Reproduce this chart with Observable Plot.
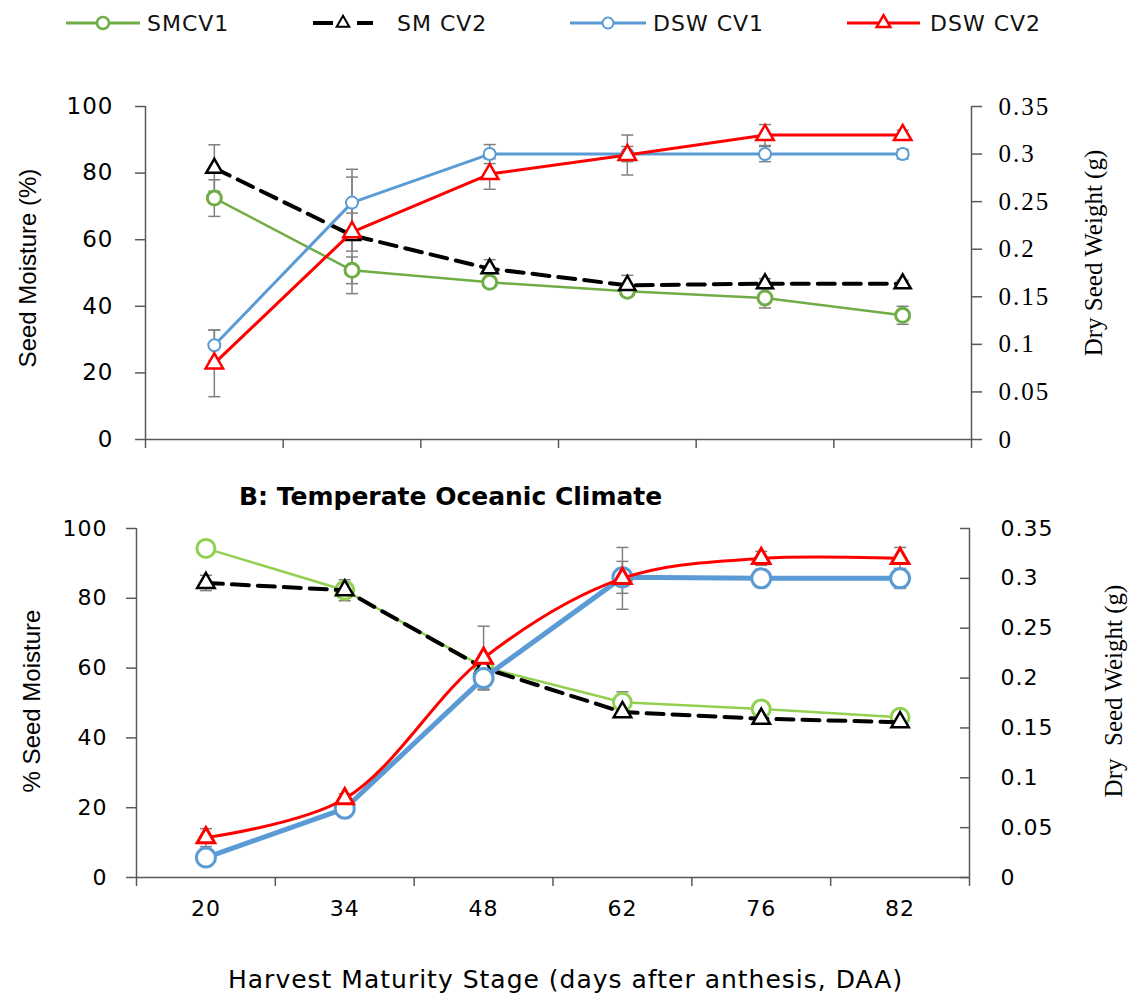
<!DOCTYPE html>
<html><head><meta charset="utf-8">
<script src="https://cdn.jsdelivr.net/npm/d3@7"></script>
<script src="https://cdn.jsdelivr.net/npm/@observablehq/plot@0.6"></script>
<style>
html, body { margin:0; padding:0; background:#fff; }
#root { position:relative; width:1131px; height:999px; overflow:hidden; color:#000; }
.abs { position:absolute; white-space:nowrap; line-height:1; }
.rot { transform: translate(-50%,-50%) rotate(-90deg); }
svg g[font-family="Liberation Serif"] text { letter-spacing: 2px; }
svg g[font-family="DejaVu Sans"] text { letter-spacing: 1px; }
</style>
</head><body><div id="root"></div>
<script>
// ---------- data ----------
const categories = ["20", "34", "48", "62", "76", "82"];
const seriesNames = ["SMCV1", "SM CV2", "DSW CV1", "DSW CV2"];
const leftTicks = [0, 20, 40, 60, 80, 100];
const rightTicks = [0, 0.05, 0.1, 0.15, 0.2, 0.25, 0.3, 0.35];

// Panel A (top)
const smcv1A    = [72.5, 50.8, 47.2, 44.5, 42.5, 37.3];
const smcv1AErr = [5.5, 4, 1.5, 1.5, 3, 2.7];
const smcv2A    = [81.5, 61.3, 51.3, 46.3, 46.8, 46.8];
const smcv2AErr = [7, 17.5, 2.7, 3, 1.5, 1];
const dswcv1A    = [0.099, 0.249, 0.300, 0.300, 0.300, 0.300];
const dswcv1AErr = [0.016, 0.035, 0.01, 0.008, 0.008, 0.005];
const dswcv2A    = [0.080, 0.218, 0.279, 0.299, 0.320, 0.320];
const dswcv2AErr = [0.035, 0.02, 0.016, 0.021, 0.011, 0.005];

// Panel B (bottom)
const smcv1B    = [94.3, 82.3, 60.3, 50.2, 48.3, 45.9];
const smcv1BErr = [0, 0, 1.5, 3, 0, 0];
const smcv2B    = [84.4, 82.3, 60.0, 47.4, 45.5, 44.5];
const smcv2BErr = [2.2, 3, 1.5, 1, 0, 0];
const dswcv1B    = [0.020, 0.069, 0.200, 0.301, 0.300, 0.300];
const dswcv1BErr = [0, 0, 0.011, 0.016, 0.009, 0.01];
const dswcv2B    = [0.040, 0.079, 0.220, 0.300, 0.320, 0.320];
const dswcv2BErr = [0.009, 0.005, 0.032, 0.031, 0.007, 0.011];

// ---------- styles ----------
const green1 = "#70AD47", green2 = "#92D050", blue = "#5B9BD5", red = "#FF0000", black = "#000000";
const errColor = "#808080", axisColor = "#595959";
const k = d3.max(leftTicks) / d3.max(rightTicks);

const stylesA = [
  {color: green1, width: 2.5, symbol: "circle", r: 7, mWidth: 3},
  {color: black, width: 4, dash: "17,9", symbol: "triangle", r: 6, mWidth: 2.5},
  {color: blue, width: 3, symbol: "circle", r: 6, mWidth: 2},
  {color: red, width: 3, symbol: "triangle", r: 6.5, mWidth: 2.5}
];
const stylesB = [
  {color: green2, width: 2.5, symbol: "circle", r: 9, mWidth: 3},
  {color: black, width: 4, dash: "17,9", symbol: "triangle", r: 6.5, mWidth: 2.5},
  {color: blue, width: 5, symbol: "circle", r: 9.5, mWidth: 3},
  {color: red, width: 3, symbol: "triangle", r: 6.5, mWidth: 3, curve: "catmull-rom"}
];

const capSymbol = { draw(ctx, size) { const w = Math.sqrt(size); ctx.moveTo(-w, 0); ctx.lineTo(w, 0); } };

function toRows(vals, errs, f) { return vals.map((v, i) => ({x: i + 0.5, y: v * f, e: errs[i] * f})); }

function errMarks(rows) {
  const w = rows.filter(d => d.e > 0);
  return [
    Plot.ruleX(w, {x: "x", y1: d => d.y - d.e, y2: d => d.y + d.e, stroke: errColor, strokeWidth: 1.5}),
    Plot.dot(w, {x: "x", y: d => d.y + d.e, symbol: capSymbol, r: 3.4, fill: "none", stroke: errColor, strokeWidth: 1.5}),
    Plot.dot(w, {x: "x", y: d => d.y - d.e, symbol: capSymbol, r: 3.4, fill: "none", stroke: errColor, strokeWidth: 1.5})
  ];
}
function lineMarks(rows, st) {
  return [
    Plot.line(rows, {x: "x", y: "y", stroke: st.color, strokeWidth: st.width, strokeDasharray: st.dash, curve: st.curve || "linear"}),
    Plot.dot(rows, {x: "x", y: "y", symbol: st.symbol, r: st.r, stroke: st.color, strokeWidth: st.mWidth, fill: "white"})
  ];
}

function panel(o) {
  const marks = [];
  o.series.forEach(rows => marks.push(...errMarks(rows)));
  marks.push(Plot.ruleY([0], {stroke: axisColor, strokeWidth: 1.5}));
  marks.push(Plot.ruleX([0, categories.length], {stroke: axisColor, strokeWidth: 1.5}));
  marks.push(Plot.axisX({ticks: d3.range(categories.length + 1), tickSize: 9, tickFormat: () => "", stroke: axisColor, strokeWidth: 1.5, label: null}));
  if (o.xLabels) {
    marks.push(Plot.axisX({ticks: categories.map((_, i) => i + 0.5), tickSize: 0, tickPadding: o.xPad,
      tickFormat: d => categories[Math.floor(d)], fontSize: 22, fontFamily: "DejaVu Sans", label: null}));
  }
  marks.push(Plot.axisY({anchor: "left", ticks: leftTicks, tickSize: 10, tickPadding: o.leftPad,
    fontSize: o.leftSize, fontFamily: "DejaVu Sans", stroke: axisColor, strokeWidth: 1.5, label: null}));
  marks.push(Plot.axisY({anchor: "right", ticks: rightTicks.map(v => v * k), tickSize: o.rightTick, tickPadding: o.rightPad,
    tickFormat: d => String(+(d / k).toFixed(2)),
    fontSize: o.rightSize, fontFamily: o.rightFamily, stroke: axisColor, strokeWidth: 1.5, label: null}));
  o.series.forEach((rows, i) => marks.push(...lineMarks(rows, o.styles[i])));
  const svg = Plot.plot({
    width: 1131, height: o.height,
    marginTop: o.mt, marginBottom: o.mb, marginLeft: o.ml, marginRight: o.mr,
    x: {domain: [0, categories.length], label: null},
    y: {domain: [d3.min(leftTicks), d3.max(leftTicks)], label: null},
    style: {color: "#000", background: "transparent", overflow: "visible"},
    marks
  });
  svg.style.position = "absolute";
  svg.style.left = "0px";
  svg.style.top = o.top + "px";
  return svg;
}

const root = document.getElementById("root");

const seriesA = [toRows(smcv1A, smcv1AErr, 1), toRows(smcv2A, smcv2AErr, 1), toRows(dswcv1A, dswcv1AErr, k), toRows(dswcv2A, dswcv2AErr, k)];
const seriesB = [toRows(smcv1B, smcv1BErr, 1), toRows(smcv2B, smcv2BErr, 1), toRows(dswcv1B, dswcv1BErr, k), toRows(dswcv2B, dswcv2BErr, k)];

root.appendChild(panel({series: seriesA, styles: stylesA, top: 60, height: 400, mt: 46, mb: 21, ml: 145, mr: 160,
  xLabels: false, leftPad: 22, leftSize: 23, rightTick: 10, rightPad: 17, rightSize: 25, rightFamily: "Liberation Serif"}));
root.appendChild(panel({series: seriesB, styles: stylesB, top: 460, height: 480, mt: 68, mb: 63, ml: 136, mr: 162,
  xLabels: true, xPad: 23, leftPad: 19, leftSize: 22, rightTick: -10, rightPad: 41, rightSize: 22, rightFamily: "DejaVu Sans"}));

// ---------- legend ----------
const legendLayout = [{x0: 66, x1: 140, t: 147}, {x0: 313, x1: 373, t: 397}, {x0: 570, x1: 646, t: 653}, {x0: 847, x1: 920, t: 930}];
const legendStyles = [
  {color: green1, width: 3, symbol: d3.symbolCircle, r: 6, mWidth: 2.5},
  {color: black, width: 4, dash: "20,24", symbol: d3.symbolTriangle2, r: 6, mWidth: 2},
  {color: blue, width: 3, symbol: d3.symbolCircle, r: 5.5, mWidth: 2},
  {color: red, width: 3, symbol: d3.symbolTriangle2, r: 6.5, mWidth: 2.5}
];
const lg = d3.select(root).append("svg").attr("width", 1131).attr("height", 50)
  .style("position", "absolute").style("left", "0px").style("top", "0px");
seriesNames.forEach((name, i) => {
  const L = legendLayout[i], S = legendStyles[i], cy = 23;
  lg.append("line").attr("x1", L.x0).attr("x2", L.x1).attr("y1", cy).attr("y2", cy)
    .attr("stroke", S.color).attr("stroke-width", S.width).attr("stroke-dasharray", S.dash || null);
  lg.append("path").attr("d", d3.symbol(S.symbol, Math.PI * S.r * S.r)())
    .attr("transform", `translate(${(L.x0 + L.x1) / 2},${cy})`)
    .attr("fill", "white").attr("stroke", S.color).attr("stroke-width", S.mWidth);
  lg.append("text").attr("x", L.t).attr("y", cy + 8).text(name)
    .attr("font-family", "DejaVu Sans").attr("font-size", 22).attr("letter-spacing", "1px").attr("fill", "#111");
});

// ---------- titles ----------
function addText(txt, css) {
  const d = document.createElement("div");
  d.className = "abs" + (css.rot ? " rot" : "");
  d.textContent = txt;
  Object.assign(d.style, css.style);
  root.appendChild(d);
}
addText("B: Temperate Oceanic Climate", {style: {left: "239px", top: "484px", fontFamily: "DejaVu Sans", fontWeight: "bold", fontSize: "25px"}});
addText("Harvest Maturity Stage (days after anthesis, DAA)", {style: {left: "228px", top: "967px", fontFamily: "DejaVu Sans", fontSize: "25px", letterSpacing: "1px"}});
addText("Seed Moisture (%)", {rot: true, style: {left: "28px", top: "268px", fontFamily: "Liberation Sans", fontSize: "24px"}});
addText("% Seed Moisture", {rot: true, style: {left: "32px", top: "701px", fontFamily: "Liberation Sans", fontSize: "24px"}});
addText("Dry Seed Weight (g)", {rot: true, style: {left: "1093px", top: "253px", fontFamily: "Liberation Serif", fontSize: "25px"}});
addText("Dry  Seed Weight (g)", {rot: true, style: {left: "1113px", top: "691px", fontFamily: "Liberation Serif", fontSize: "25px", whiteSpace: "pre"}});
</script>
</body></html>
